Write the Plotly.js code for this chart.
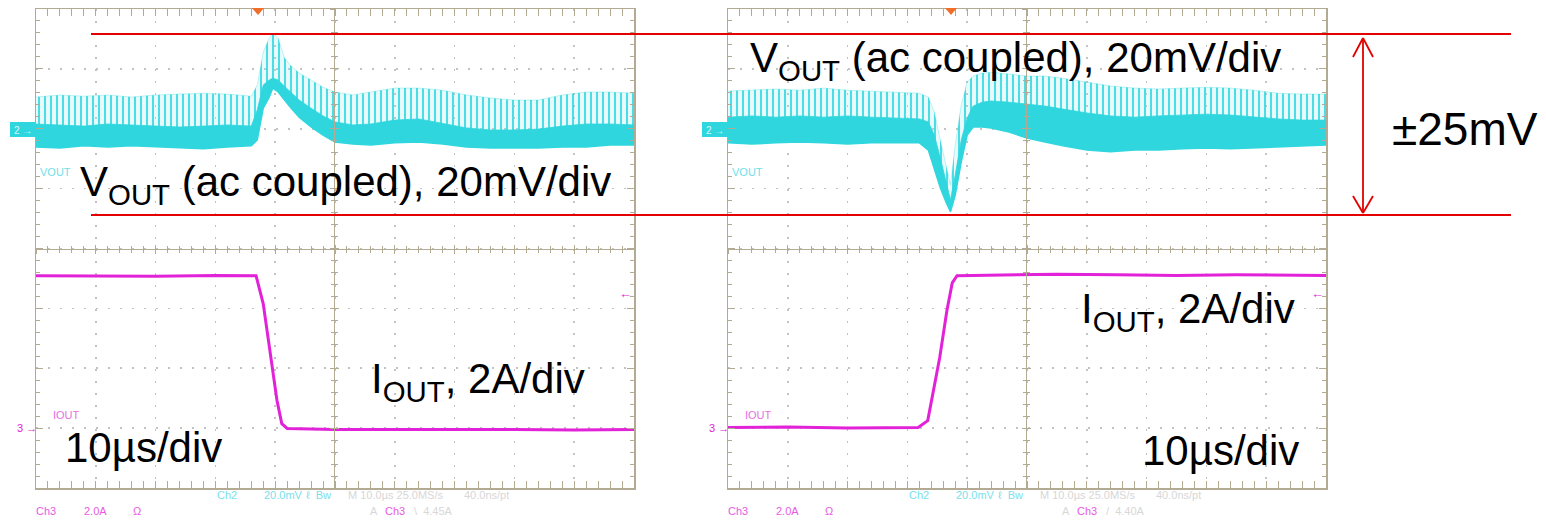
<!DOCTYPE html>
<html>
<head>
<meta charset="utf-8">
<script src="https://cdn.plot.ly/plotly-3.0.1.min.js"></script>
<style>html,body{margin:0;padding:0;background:#fff;}#chart{width:1546px;height:522px;}</style>
</head>
<body>
<div id="chart"></div>
<script>
function showErr(m){document.body.insertAdjacentHTML('beforeend','<pre style="position:absolute;top:200px;left:300px;color:red;font-size:14px;background:#ffe">'+m+'</pre>');}
window.onerror = function(m){ showErr(m); };
// ---------------- DATA ----------------
// Left capture: load step down. Time in µs (10 µs/div), VOUT in mV (ac coupled), IOUT in A.
const tLeftV      = [0,4,8,12,16,20,24,28,32,36,37,38,39,39.6,40.5,41.5,42.5,44,46,48,50,53,56,60,64,68,72,76,80,84,88,92,96,100];
const voutLeftTip = [11.0,11.7,11.3,11.7,11.0,11.7,12.0,12.3,12.0,11.3,15.0,26.0,30.7,32.3,30.7,24.3,21.7,19.0,16.7,14.3,12.7,11.7,12.7,14.0,14.0,13.3,11.7,10.7,10.0,10.0,11.7,12.7,12.7,12.3];
const voutLeftCore= [2.0,1.7,1.3,2.0,1.7,1.3,1.0,1.3,1.7,1.3,6.7,15.0,16.7,17.3,16.7,14.7,12.7,10.0,7.3,4.7,2.7,1.7,2.0,3.3,3.7,2.3,0.7,0.0,0.0,0.3,1.3,2.0,2.0,1.7];
const voutLeftLow = [-5.7,-6.0,-5.3,-5.7,-5.3,-5.7,-6.0,-6.3,-5.7,-5.3,-3.3,7.3,11.0,14.0,12.7,10.0,7.7,4.3,1.0,-1.7,-4.0,-4.7,-5.0,-4.3,-4.0,-4.7,-5.7,-6.0,-6.0,-6.0,-5.7,-5.7,-5.0,-5.0];
const tLeftI      = [0,10,20,30,36.8,38.0,39.1,40.3,41.1,42.0,50,60,70,80,90,100];
const ioutLeft    = [5.07,5.07,5.05,5.08,5.07,4.13,2.57,0.90,0.13,-0.03,-0.07,-0.07,-0.05,-0.07,-0.08,-0.07];

// Right capture: load step up.
const tRightV      = [0,4,8,12,16,20,24,28,32,33.5,34.5,35.5,36.5,37.2,38,39,40,41,42.5,44,47,50,53,56,60,64,68,72,76,80,84,88,92,96,100];
const voutRightTip = [13.0,13.3,13.7,13.3,14.0,13.3,13.0,12.7,12.3,11.0,6.0,-3.3,-11.7,-18.3,-5.0,8.3,16.0,18.0,19.0,19.3,18.7,18.0,18.0,17.3,16.0,14.7,14.0,13.7,14.0,14.3,14.0,13.3,12.3,12.0,12.0];
const voutRightCore= [4.3,4.7,4.3,4.7,4.3,4.7,4.3,4.0,3.7,2.7,-1.7,-9.3,-17.3,-23.3,-15.0,-3.3,4.0,8.0,9.3,9.7,9.3,8.7,8.0,7.0,5.7,4.7,4.3,4.7,5.0,5.3,5.0,4.3,3.7,3.3,3.3];
const voutRightLow = [-4.3,-4.7,-4.3,-4.0,-4.3,-4.7,-4.3,-4.3,-4.3,-6.7,-12.7,-19.3,-24.3,-27.3,-21.7,-10.7,-1.7,1.0,1.0,0.7,-0.7,-2.7,-4.0,-5.3,-6.7,-7.3,-6.7,-6.7,-6.3,-6.0,-6.3,-6.0,-5.7,-5.3,-5.0];
const tRightI      = [0,10,20,31.8,33.4,34.3,35.4,36.6,37.5,38.3,45,55,65,75,85,100];
const ioutRight    = [0.00,0.02,-0.02,0.00,0.23,1.13,2.33,3.90,4.83,5.07,5.10,5.12,5.10,5.08,5.10,5.08];

// Labels
const voutLabel = 'V<sub>OUT</sub> (ac coupled), 20mV/div';
const ioutLabel = 'I<sub>OUT</sub>, 2A/div';
const timeLabel = '10µs/div';
const bandLabel = '±25mV';

// ---------------- LAYOUT HELPERS ----------------
const W = 1546, H = 522;
const px = v => v / W;
const py = v => 1 - v / H;
const frameC = 'rgb(178,170,146)';
const gridC = 'rgb(195,195,195)';
const cyan = 'rgb(48,214,222)';
const magenta = 'rgb(226,34,216)';
const red = 'rgb(228,0,0)';
const FONT = 'Liberation Sans, Arial, Helvetica, sans-serif';

// scope geometry (pixels)
const scopeTop = 9, scopeBot = 488;
const scopes = [{x0:36, x1:634}, {x0:728, x1:1326}];
const centerY = (scopeTop + scopeBot) / 2;
const divPx = (scopeBot - scopeTop) / 8;
// channel ground markers (divisions from screen centre)
const voutOffDiv = (centerY - 130) / divPx;
const ioutOffDiv = (centerY - 427.5) / divPx;
const voutRange = [(-4 - voutOffDiv) * 20, (4 - voutOffDiv) * 20];
const ioutRange = [(-4 - ioutOffDiv) * 2, (4 - ioutOffDiv) * 2];

const layout = {
  width: W, height: H, margin: {l:0, r:0, t:0, b:0},
  paper_bgcolor: '#fff', plot_bgcolor: 'rgba(0,0,0,0)', showlegend: false,
  shapes: [], annotations: []
};
const yDom = [py(scopeBot), py(scopeTop)];

function baseX(dom, anchor) {
  return {domain: dom, range: [0, 100], anchor: anchor, showline: true, linecolor: frameC, linewidth: 1.5,
    mirror: 'allticks', ticks: 'inside', ticklen: 7, tickwidth: 1.2, tickcolor: frameC, dtick: 10, tick0: 0,
    showticklabels: false, showgrid: true, gridcolor: gridC, gridwidth: 1.6, griddash: '2px,10px',
    zeroline: false, fixedrange: true,
    minor: {dtick: 2, tick0: 0, ticks: 'inside', ticklen: 4, tickwidth: 1, tickcolor: frameC, showgrid: false}};
}
function baseY(anchor) {
  return {domain: yDom, range: voutRange, anchor: anchor, showline: true, linecolor: frameC, linewidth: 1.5,
    mirror: 'allticks', ticks: 'inside', ticklen: 7, tickwidth: 1.2, tickcolor: frameC, dtick: 20, tick0: voutRange[0],
    showticklabels: false, showgrid: true, gridcolor: gridC, gridwidth: 1.6, griddash: '2px,10px',
    zeroline: false, fixedrange: true,
    minor: {dtick: 4, tick0: voutRange[0], ticks: 'inside', ticklen: 4, tickwidth: 1, tickcolor: frameC, showgrid: false}};
}
function dummy(dom, anchor, range) {
  return {domain: dom, anchor: anchor, range: range, visible: false, fixedrange: true, showgrid: false, zeroline: false};
}
function centerX(dom, anchor, dir) {
  return {domain: dom, anchor: anchor, range: [0, 100], showline: true, linecolor: frameC,
    linewidth: 1.2, ticks: dir, ticklen: 4, tickwidth: 1, tickcolor: frameC, dtick: 10, tick0: 0, showticklabels: false,
    showgrid: false, zeroline: false, fixedrange: true,
    minor: {dtick: 2, tick0: 0, ticks: dir, ticklen: 3, tickwidth: 1, tickcolor: frameC, showgrid: false}};
}
function centerYAx(anchor, dir) {
  return {domain: yDom, anchor: anchor, side: 'left', range: [-4, 4], showline: true, linecolor: frameC,
    linewidth: 1.2, ticks: dir, ticklen: 4, tickwidth: 1, tickcolor: frameC, dtick: 1, tick0: 0, showticklabels: false,
    showgrid: false, zeroline: false, fixedrange: true,
    minor: {dtick: 0.2, tick0: 0, ticks: dir, ticklen: 3, tickwidth: 1, tickcolor: frameC, showgrid: false}};
}

const sL = scopes[0], sR = scopes[1];
const xDomL = [px(sL.x0), px(sL.x1)], xDomR = [px(sR.x0), px(sR.x1)];
const halfTop = [py(centerY), py(scopeTop)];
// Left scope: x / y (VOUT), y2 (IOUT); centre cross: x2,x3 on dummy y3 ; y4,y5 on dummy x4
layout.xaxis  = baseX(xDomL, 'y');
layout.yaxis  = baseY('x');
layout.yaxis2 = {overlaying: 'y', range: ioutRange, visible: false, fixedrange: true};
layout.yaxis3 = dummy(halfTop, 'x2', [0, 1]);
layout.xaxis2 = centerX(xDomL, 'y3', 'inside');
layout.xaxis3 = centerX(xDomL, 'y3', 'outside');
layout.xaxis4 = dummy([px((sL.x0 + sL.x1) / 2), px(sL.x1)], 'y4', [0, 1]);
layout.yaxis4 = centerYAx('x4', 'inside');
layout.yaxis5 = centerYAx('x4', 'outside');
// Right scope: x5 / y6 (VOUT), y7 (IOUT); centre cross: x6,x7 on dummy y8 ; y9,y10 on dummy x8
layout.xaxis5 = baseX(xDomR, 'y6');
layout.yaxis6 = baseY('x5');
layout.yaxis7 = {overlaying: 'y6', range: ioutRange, visible: false, fixedrange: true};
layout.yaxis8 = dummy(halfTop, 'x6', [0, 1]);
layout.xaxis6 = centerX(xDomR, 'y8', 'inside');
layout.xaxis7 = centerX(xDomR, 'y8', 'outside');
layout.xaxis8 = dummy([px((sR.x0 + sR.x1) / 2), px(sR.x1)], 'y9', [0, 1]);
layout.yaxis9 = centerYAx('x8', 'inside');
layout.yaxis10 = centerYAx('x8', 'outside');

// ---------------- TRACES ----------------
function voutTraces(t, tip, core, low, xa, ya) {
  return [
    {x: t, y: tip, xaxis: xa, yaxis: ya, mode: 'lines', line: {width: 0.6, color: 'rgba(48,214,222,0.5)'}, hoverinfo: 'skip'},
    {x: t, y: low, xaxis: xa, yaxis: ya, mode: 'lines', line: {width: 0}, fill: 'tonexty',
     fillcolor: 'rgba(150,235,240,0.22)',
     fillpattern: {shape: '|', size: 6, solidity: 0.3, fgcolor: cyan, fgopacity: 0.95, fillmode: 'overlay'}, hoverinfo: 'skip'},
    {x: t, y: core, xaxis: xa, yaxis: ya, mode: 'lines', line: {width: 0.8, color: cyan}, hoverinfo: 'skip'},
    {x: t, y: low, xaxis: xa, yaxis: ya, mode: 'lines', line: {width: 1.5, color: cyan}, fill: 'tonexty', fillcolor: cyan, hoverinfo: 'skip'}
  ];
}
// empty traces so that the centre-cross axis pairs are drawn
const crossPairs = [['x2','y3'],['x3','y3'],['x4','y4'],['x4','y5'],['x6','y8'],['x7','y8'],['x8','y9'],['x8','y10']];
const data = [
  ...crossPairs.map(p => ({x: [], y: [], xaxis: p[0], yaxis: p[1], mode: 'lines', hoverinfo: 'skip'})),
  ...voutTraces(tLeftV, voutLeftTip, voutLeftCore, voutLeftLow, 'x', 'y'),
  {x: tLeftI, y: ioutLeft, xaxis: 'x', yaxis: 'y2', mode: 'lines', line: {width: 3, color: magenta}, hoverinfo: 'skip'},
  ...voutTraces(tRightV, voutRightTip, voutRightCore, voutRightLow, 'x5', 'y6'),
  {x: tRightI, y: ioutRight, xaxis: 'x5', yaxis: 'y7', mode: 'lines', line: {width: 3, color: magenta}, hoverinfo: 'skip'}
];

// ---------------- DECORATIONS ----------------
function pline(x0, y0, x1, y1, color, w) {
  layout.shapes.push({type: 'line', xref: 'paper', yref: 'paper', x0: px(x0), y0: py(y0), x1: px(x1), y1: py(y1),
    line: {color: color, width: w}, layer: 'above'});
}
function ann(text, x, y, size, color, xanchor, extra) {
  layout.annotations.push(Object.assign({text: text, xref: 'paper', yref: 'paper', x: px(x), y: py(y),
    xanchor: xanchor || 'left', yanchor: 'middle', showarrow: false,
    font: {family: FONT, size: size, color: color}}, extra || {}));
}

// ±25 mV band lines and double arrow
pline(91, 34, 1511, 34, red, 1.8);
pline(91, 215, 1511, 215, red, 1.8);
pline(1363, 38, 1363, 213, red, 1.8);
pline(1363, 38, 1353, 57, red, 1.8);
pline(1363, 38, 1373, 57, red, 1.8);
pline(1363, 213, 1353, 196, red, 1.8);
pline(1363, 213, 1373, 196, red, 1.8);

scopes.forEach((s, i) => {
  const o = s.x0 - 36;
  layout.shapes.push({type: 'rect', xref: 'paper', yref: 'paper', x0: px(10 + o), x1: px(36 + o), y0: py(137), y1: py(122),
    fillcolor: cyan, line: {width: 0}, layer: 'above'});
  ann('2 →', 12 + o, 130, 10, 'rgba(255,255,255,0.85)');
  ann('VOUT', 38 + o, 172, 11, 'rgb(110,225,232)');
  ann('IOUT', 51 + o, 415, 11, 'rgb(232,110,226)');
  ann('3 →', 15 + o, 428, 11, magenta);
  const trigX = i === 0 ? 258 : 951;
  layout.shapes.push({type: 'path', xref: 'paper', yref: 'paper',
    path: `M ${px(trigX - 6)} ${py(8)} L ${px(trigX + 6)} ${py(8)} L ${px(trigX)} ${py(15)} Z`,
    fillcolor: 'rgb(240,110,40)', line: {width: 0}, layer: 'above'});
  ann('←', 617 + o, 293, 13, magenta);
  ann('Ch2', 215 + o, 495, 11, 'rgb(120,225,235)');
  ann('20.0mV', 262 + o, 495, 11, 'rgb(120,225,235)');
  ann('ℓ  Bw', 304 + o, 495, 11, 'rgb(120,225,235)');
  ann('M 10.0µs 25.0MS/s', 346 + o, 495, 11, 'rgb(215,215,215)');
  ann('40.0ns/pt', 462 + o, 495, 11, 'rgb(215,215,215)');
  ann('Ch3', 34 + o, 511, 11, 'rgb(232,90,226)');
  ann('2.0A', 82 + o, 511, 11, 'rgb(232,90,226)');
  ann('Ω', 131 + o, 511, 11, 'rgb(232,90,226)');
  ann('A', 368 + o, 511, 11, 'rgb(215,215,215)');
  ann('Ch3', 383 + o, 511, 11, 'rgb(232,90,226)');
  ann(i === 0 ? '\\  4.45A' : '/  4.40A', 412 + o, 511, 11, 'rgb(215,215,215)');
});

// big black labels
ann(voutLabel, 78, 184, 42, '#000');
ann(voutLabel, 748, 61, 42, '#000');
ann(ioutLabel, 369, 381, 42, '#000');
ann(ioutLabel, 1079, 311, 42, '#000');
ann(timeLabel, 63, 447, 42, '#000');
ann(timeLabel, 1140, 450, 42, '#000');
ann(bandLabel, 1390, 129, 46, '#000');

try {
  const p = Plotly.newPlot('chart', data, layout, {staticPlot: true, displayModeBar: false});
  if (p && p.catch) p.catch(e => showErr('promise: ' + (e && e.stack || e)));
} catch (e) { showErr('sync: ' + (e && e.stack || e)); }
</script>
</body>
</html>
